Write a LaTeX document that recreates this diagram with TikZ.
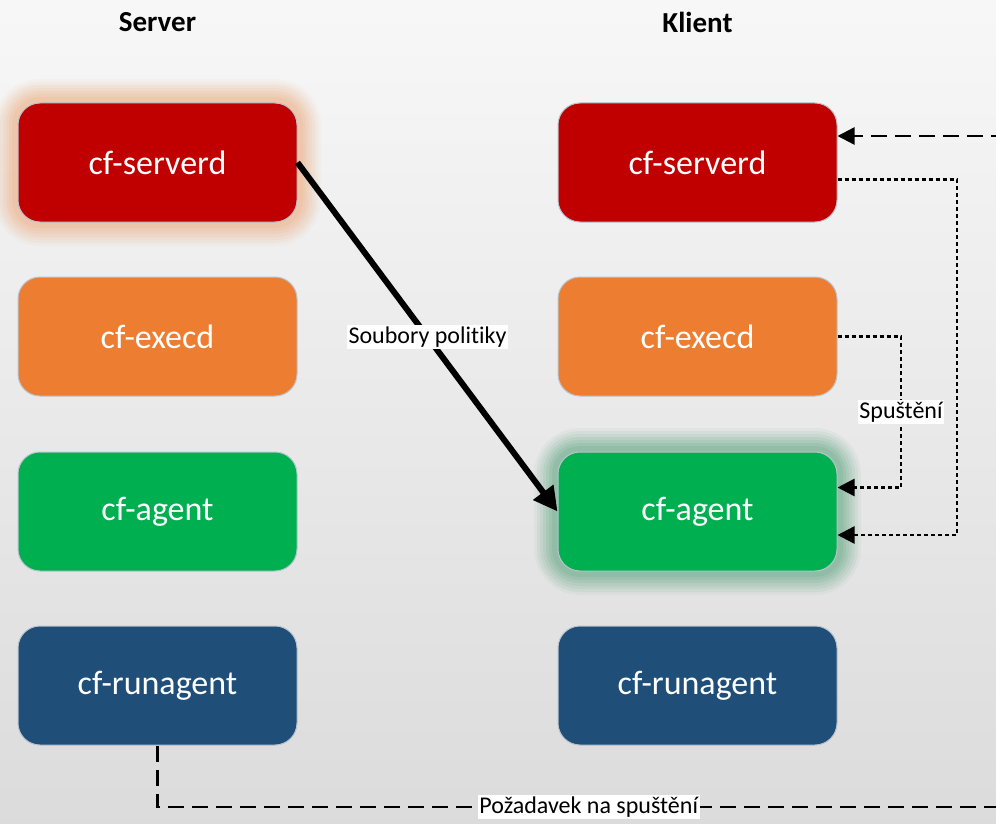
\documentclass[tikz,border=0pt]{standalone}
\usepackage{fontspec}
\setmainfont[Ligatures=NoCommon]{Carlito}
\usepackage{tikz}
\usetikzlibrary{arrows.meta}
\usetikzlibrary{positioning}

\definecolor{cfred}{HTML}{C00000}
\definecolor{cforange}{HTML}{ED7D31}
\definecolor{cfgreen}{HTML}{00B050}
\definecolor{cfblue}{HTML}{1F4E79}
\definecolor{okraj}{RGB}{185,195,205}

\tikzset{
  proces/.style={rounded corners=22pt, minimum width=279pt, minimum height=119pt,
    draw=okraj, line width=1pt, text=white, font=\fontsize{34}{40}\selectfont},
  zare/.style={
    preaction={draw=#1, line width=48pt, opacity=.04},
    preaction={draw=#1, line width=42pt, opacity=.05},
    preaction={draw=#1, line width=36pt, opacity=.06},
    preaction={draw=#1, line width=30pt, opacity=.06},
    preaction={draw=#1, line width=24pt, opacity=.07},
    preaction={draw=#1, line width=18pt, opacity=.07},
    preaction={draw=#1, line width=12pt, opacity=.07}},
  nadpis/.style={font=\fontsize{29}{34}\selectfont\bfseries},
  popis/.style={fill=white, inner sep=1.5pt, text=black, font=\fontsize{24}{28}\selectfont},
  carka/.style={line width=2.5pt, dash pattern=on 16pt off 8pt,
    -{Triangle[length=17pt,width=17pt]}},
  tecky/.style={line width=2.5pt, dash pattern=on 4pt off 3pt,
    -{Triangle[length=17pt,width=17pt]}},
}

\begin{document}
\begin{tikzpicture}[x=1pt, y=-1pt]

\clip (0,0) rectangle (996,824);
\fill[top color=black!3, bottom color=black!14] (0,0) rectangle (996,824);

% Nadpisy
\node[nadpis] (tServer) at (157.5,22) {Server};
\node[nadpis] (tKlient) at (697.5,22) {Klient};

% Server
\node[proces, fill=cfred, zare=cforange] (sSrv) at (157.5,162.5) {cf-serverd};
\node[proces, fill=cforange] (sExe) at (157.5,336.5) {cf-execd};
\node[proces, fill=cfgreen] (sAgt) at (157.5,511.5) {cf-agent};
\node[proces, fill=cfblue] (sRun) at (157.5,685.5) {cf-runagent};

% Klient
\node[proces, fill=cfred] (kSrv) at (697.5,162.5) {cf-serverd};
\node[proces, fill=cforange] (kExe) at (697.5,336.5) {cf-execd};
\node[proces, fill=cfgreen, zare=cfgreen!70!black] (kAgt) at (697.5,511.5) {cf-agent};
\node[proces, fill=cfblue] (kRun) at (697.5,685.5) {cf-runagent};

% Soubory politiky
\draw[line width=6pt, -{Triangle[length=24pt,width=24pt]}] (sSrv.east) -- node[popis, pos=.5] (lPol) {Soubory politiky} (kAgt.west);

% Pozadavek na spusteni
\coordinate (R1) at (1020,807);
\coordinate (R2) at (1020,136);
\draw[carka] (sRun.south) |- node[popis, pos=.75] (lPoz) {Požadavek na spuštění} (R1) -- (R2) -- ([yshift=26.5pt]kSrv.east);

% Spusteni
\coordinate (D1) at (957,535);
\coordinate (D2) at (901,487.5);
\draw[tecky] ([yshift=-17pt]kSrv.east) -| (D1) -- ([yshift=-23.5pt]kAgt.east);
\draw[tecky] (kExe.east) -| node[popis, pos=.75] (lSpu) {Spuštění} (D2) -- ([yshift=24pt]kAgt.east);

\end{tikzpicture}
\end{document}
